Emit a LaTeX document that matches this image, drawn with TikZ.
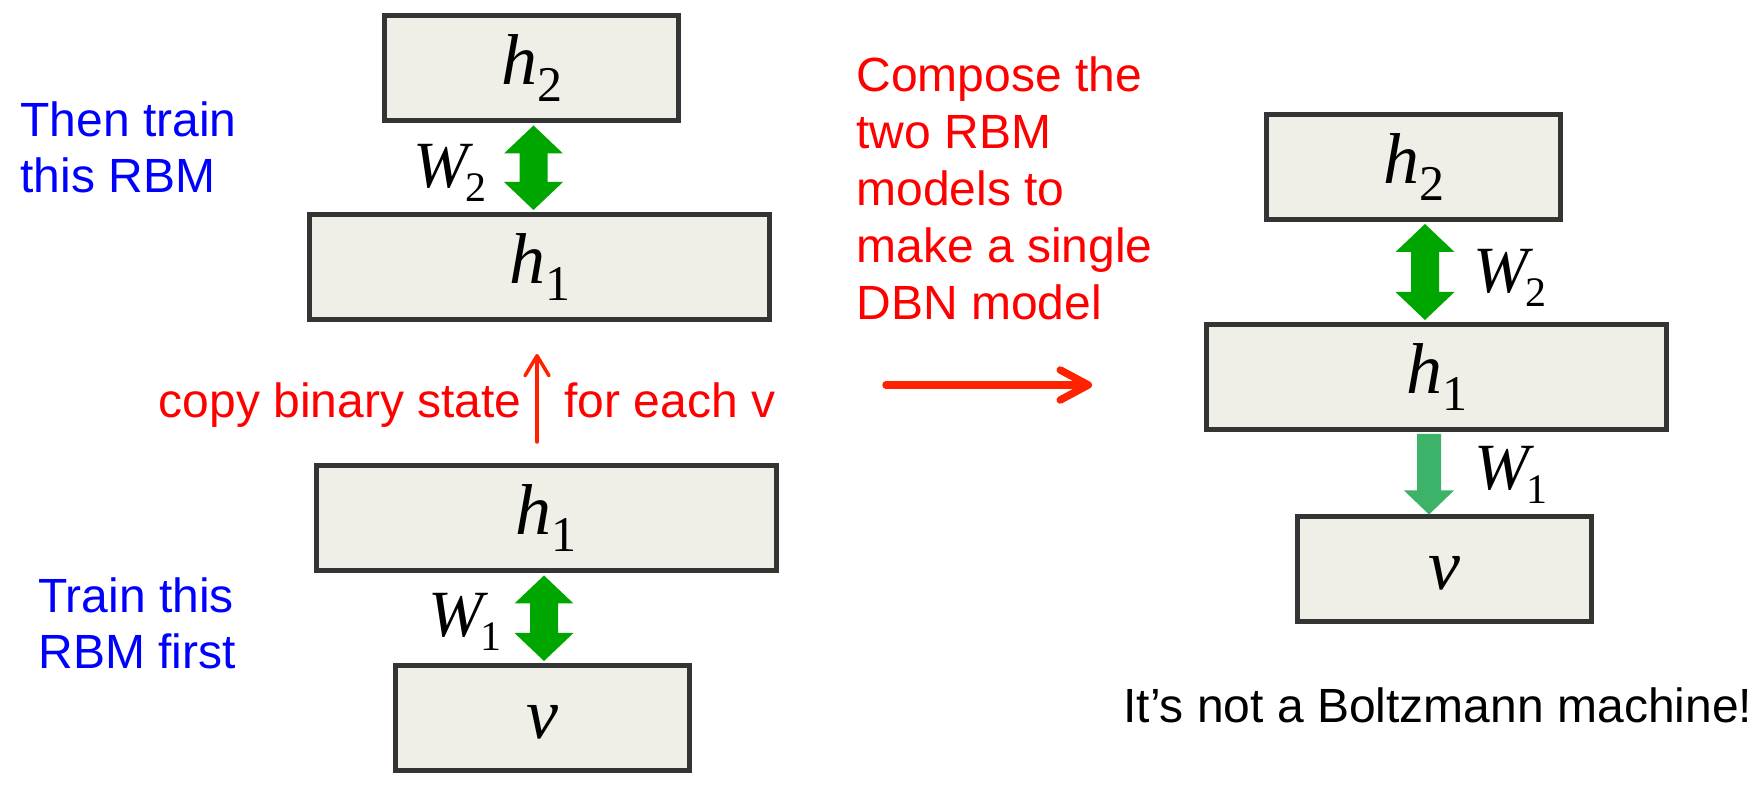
\documentclass[tikz,border=0pt]{standalone}
\usepackage{fontspec}
\setmainfont{Liberation Sans}
\newfontfamily\tnr{Liberation Serif}
\usetikzlibrary{arrows.meta,calc}
\definecolor{boxfill}{RGB}{239,239,231}
\definecolor{boxline}{RGB}{52,52,52}
\definecolor{dgreen}{RGB}{0,166,0}
\definecolor{lgreen}{RGB}{60,179,105}
\definecolor{ared}{RGB}{255,34,0}
\newcommand\symb[2]{{\fontsize{36pt}{36pt}\tnr\itshape #1}\ifx&#2&\else\raisebox{-8.5pt}{\fontsize{25pt}{25pt}\tnr #2}\fi}
\newcommand\wsym[1]{{\fontsize{33pt}{33pt}\tnr\itshape W}\kern-1.5pt\raisebox{-7pt}{\fontsize{21pt}{21pt}\tnr #1}}
\newcommand\dbl[3]{%
  \fill[#3] (#1) -- ($(#1)+(29.5,28)$) -- ($(#1)+(14,28)$) -- ($(#2)+(14,-28)$)
   -- ($(#2)+(29.5,-28)$) -- (#2) -- ($(#2)+(-29.5,-28)$) -- ($(#2)+(-14,-28)$)
   -- ($(#1)+(-14,28)$) -- ($(#1)+(-29.5,28)$) -- cycle;}
\newcommand\dwn[3]{%
  \fill[#3] ($(#1)+(-12,0)$) -- ($(#1)+(12,0)$) -- ($(#2)+(12,-24)$) -- ($(#2)+(25,-24)$)
   -- (#2) -- ($(#2)+(-25,-24)$) -- ($(#2)+(-12,-24)$) -- cycle;}
\begin{document}
\begin{tikzpicture}[x=0.5pt,y=-0.5pt,
  box/.style={draw=boxline, line width=2.5pt, fill=boxfill, inner sep=0pt, minimum height=52.5pt},
  smallbox/.style={box, minimum width=147pt},
  largebox/.style={box, minimum width=230pt},
  vbox/.style={text height=20.5pt, text depth=0pt},
  note/.style={font=\fontsize{24pt}{28pt}\selectfont, align=left, inner sep=0pt, anchor=base west},
  wlab/.style={inner sep=0pt},
  redarr/.style={draw=ared, line cap=round, line join=round}
]
\useasboundingbox (0,0) rectangle (1757,795);
% boxes
\node[smallbox] (h2L) at (531.5,68.5) {\symb{h}{2}};
\node[largebox] (h1La) at (539.5,267) {\symb{h}{1}};
\node[largebox] (h1Lb) at (546,518.5) {\symb{h}{1}};
\node[smallbox, vbox] (vL) at (542,718) {\symb{v}{}};
\node[smallbox] (h2R) at (1413.5,167) {\symb{h}{2}};
\node[largebox] (h1R) at (1436.5,377) {\symb{h}{1}};
\node[smallbox, vbox] (vR) at (1444.5,569.5) {\symb{v}{}};
% arrow columns
\coordinate (xa) at (533.5,0);
\coordinate (xb) at (544,0);
\coordinate (xc) at (1425,0);
\coordinate (xd) at (1429,0);
\coordinate (w2t) at ($(h2L.south -| xa)+(0,2)$);
\coordinate (w2b) at ($(h1La.north -| xa)+(0,-2)$);
\coordinate (w1t) at ($(h1Lb.south -| xb)+(0,2)$);
\coordinate (w1b) at ($(vL.north -| xb)+(0,-2)$);
\coordinate (r2t) at ($(h2R.south -| xc)+(0,2)$);
\coordinate (r2b) at ($(h1R.north -| xc)+(0,-2)$);
\coordinate (r1t) at ($(h1R.south -| xd)+(0,2)$);
\coordinate (r1b) at ($(vR.north -| xd)+(0,0)$);
\dbl{w2t}{w2b}{dgreen}
\dbl{w1t}{w1b}{dgreen}
\dbl{r2t}{r2b}{dgreen}
\dwn{r1t}{r1b}{lgreen}
% weight labels
\node[wlab] (lw2L) at (450,172.5) {\wsym{2}};
\node[wlab] (lw1L) at (465,622) {\wsym{1}};
\node[wlab] (lw2R) at (1510,278) {\wsym{2}};
\node[wlab] (lw1R) at (1511,474.5) {\wsym{1}};
% red arrows
\coordinate (cb) at (537,442);
\coordinate (ct) at (537,354);
\draw[redarr, line width=1.75pt, -{Straight Barb[length=10pt,width=12pt,line cap=round,line join=round]}] (cb) -- (ct);
\coordinate (ra) at (886,385);
\coordinate (rb) at (1092,385);
\draw[redarr, line width=3.75pt, -{Straight Barb[length=14pt,width=15pt,line cap=round,line join=round]}] (ra) -- (rb);
% texts
\node[note, text=blue] (t1) at (20,193) {Then train\\this RBM};
\node[note, text=blue] (t2) at (38,669) {Train this\\RBM first};
\node[note, text=red, anchor=base east] (t3) at (522,418) {copy binary state};
\node[note, text=red] (t4) at (564,418) {for each v};
\node[note, text=red, font=\fontsize{24pt}{28.5pt}\selectfont] (t5) at (856,320) {Compose the\\two RBM\\models to\\make a single\\DBN model};
\node[note] (t6) at (1123,723) {It’s not a Boltzmann machine!};
\end{tikzpicture}
\end{document}
